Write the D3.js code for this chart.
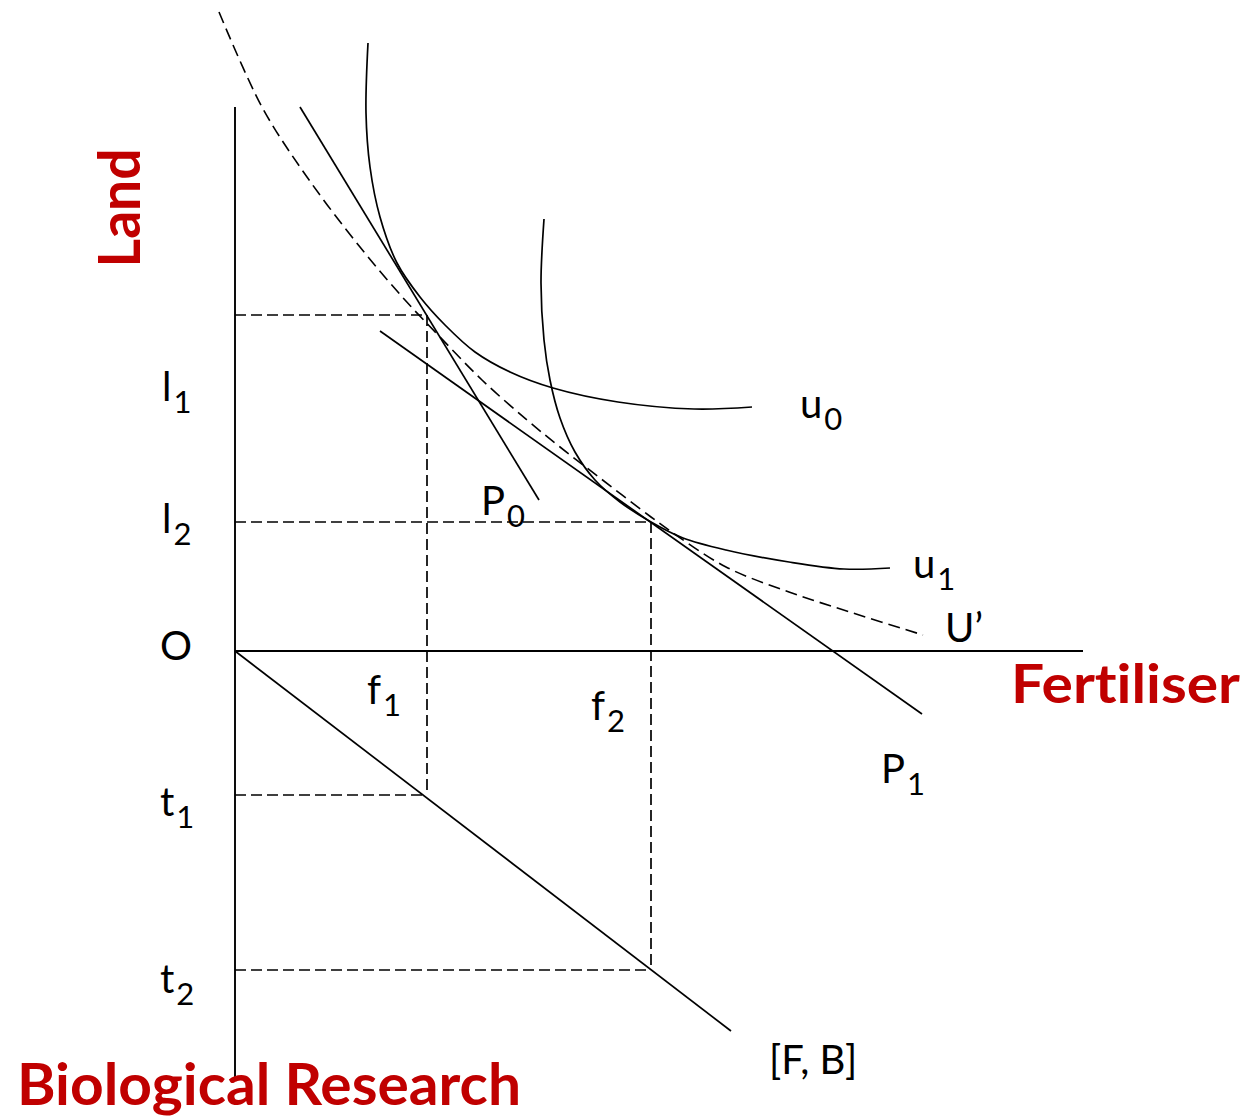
<!DOCTYPE html>
<html>
<head>
<meta charset="utf-8">
<script src="https://cdn.jsdelivr.net/npm/d3@7"></script>
<style>
  body { margin: 0; background: #fff; }
  svg { display: block; }
  text { font-variant-ligatures: none; font-feature-settings: "liga" 0, "dlig" 0; }
</style>
</head>
<body>
<div class="diagram"></div>
<script>
var width = 1250,
    height = 1119;

// diagram units: origin O, fertiliser to the right, land up, biological research down
var guideF = [192, 416];          // f1, f2
var guideL = [336, 129];          // l1, l2
var guideT = [-144, -319];        // t1, t2

var p0Line = [[65, 544], [304, 151]];
var p1Line = [[145, 320], [687, -63]];
var fbLine = [[0, 0], [496, -380]];

var u0Curve = [[133, 608], [131, 538], [135, 484], [145, 434], [162, 388], [185, 354],
  [210, 326], [240, 299], [275, 279], [318, 263], [383, 249], [459, 242], [517, 244]];
var u1Curve = [[309, 432], [306, 368], [309, 311], [315, 271], [325, 233], [340, 199],
  [360, 171], [385, 149], [416, 129], [448, 113], [491, 101], [554, 89], [609, 82], [655, 83]];
var envelope = [[-16, 639], [27, 544], [72, 474], [125, 404], [170, 351], [205, 314],
  [247, 271], [292, 231], [325, 204], [365, 173], [416, 134], [441, 116], [491, 84],
  [554, 59], [618, 38], [688, 16]];

var axisX = [0, 848];
var axisY = [-429, 544];

var labels = [
  {t: "l", s: "1", at: [-73, 250]},
  {t: "l", s: "2", at: [-73, 118]},
  {t: "O", s: "", at: [-75, -9]},
  {t: "t", s: "1", at: [-75, -165]},
  {t: "t", s: "2", at: [-75, -342]},
  {t: "f", s: "1", at: [132, -53]},
  {t: "f", s: "2", at: [356, -69]},
  {t: "P", s: "0", at: [246, 136]},
  {t: "u", s: "0", at: [565, 233]},
  {t: "u", s: "1", at: [678, 73]},
  {t: "U\u2019", s: "", at: [710, 9]},
  {t: "P", s: "1", at: [646, -132]},
  {t: "[F, B]", s: "", at: [534, -423]}
];

var red = "#c00000";

var x = d3.scaleLinear().domain([0, 848]).range([235, 1083]);
var y = d3.scaleLinear().domain([0, 544]).range([651, 107]);

var svg = d3.select(".diagram").append("svg")
    .attr("width", width)
    .attr("height", height);

var line = d3.line()
    .x(function(d) { return x(d[0]); })
    .y(function(d) { return y(d[1]); });
var curve = d3.line()
    .x(function(d) { return x(d[0]); })
    .y(function(d) { return y(d[1]); })
    .curve(d3.curveCatmullRom.alpha(0.5));

// dashed guides
var guides = [
  [[0, guideL[0]], [guideF[0], guideL[0]]],
  [[0, guideL[1]], [guideF[1], guideL[1]]],
  [[0, guideT[0]], [guideF[0], guideT[0]]],
  [[0, guideT[1]], [guideF[1], guideT[1]]],
  [[guideF[0], guideL[0]], [guideF[0], guideT[0]]],
  [[guideF[1], guideL[1]], [guideF[1], guideT[1]]]
];
svg.selectAll(".guide").data(guides).enter().append("path")
    .attr("class", "guide")
    .attr("d", line)
    .attr("fill", "none")
    .attr("stroke", "#000")
    .attr("stroke-width", 1.7)
    .attr("stroke-dasharray", "11,5");

// axes
svg.append("path")
    .attr("d", line([[0, axisY[1]], [0, axisY[0]]]))
    .attr("stroke", "#000").attr("stroke-width", 1.9);
svg.append("path")
    .attr("d", line([[axisX[0], 0], [axisX[1], 0]]))
    .attr("stroke", "#000").attr("stroke-width", 1.9);

// price lines and the [F, B] line
svg.selectAll(".pline").data([p0Line, p1Line, fbLine]).enter().append("path")
    .attr("class", "pline")
    .attr("d", line)
    .attr("fill", "none")
    .attr("stroke", "#000")
    .attr("stroke-width", 1.7);

// isoquants
svg.selectAll(".iso").data([u0Curve, u1Curve]).enter().append("path")
    .attr("class", "iso")
    .attr("d", curve)
    .attr("fill", "none")
    .attr("stroke", "#000")
    .attr("stroke-width", 1.7);

// envelope U'
svg.append("path")
    .attr("d", curve(envelope))
    .attr("fill", "none")
    .attr("stroke", "#000")
    .attr("stroke-width", 1.6)
    .attr("stroke-dasharray", "12,6");

// black labels
var lab = svg.selectAll(".lab").data(labels).enter().append("text")
    .attr("class", "lab")
    .attr("x", function(d) { return x(d.at[0]); })
    .attr("y", function(d) { return y(d.at[1]); })
    .style("font-family", "Lato, 'Open Sans', sans-serif")
    .style("font-size", "40px")
    .attr("fill", "#000");
lab.append("tspan").text(function(d) { return d.t; });
lab.filter(function(d) { return d.s; }).append("tspan")
    .attr("dx", 2)
    .attr("dy", 12)
    .style("font-size", "31px")
    .text(function(d) { return d.s; });

// red axis titles
svg.append("text")
    .attr("transform", "translate(140,208) rotate(-90)")
    .attr("text-anchor", "middle")
    .attr("textLength", 119)
    .attr("lengthAdjust", "spacingAndGlyphs")
    .style("font-family", "Lato, sans-serif")
    .style("font-weight", "bold")
    .style("font-size", "58px")
    .attr("fill", red)
    .text("Land");

svg.append("text")
    .attr("x", 1011)
    .attr("y", 703)
    .attr("textLength", 229)
    .attr("lengthAdjust", "spacingAndGlyphs")
    .style("font-family", "Lato, sans-serif")
    .style("font-weight", "bold")
    .style("font-size", "54px")
    .attr("fill", red)
    .text("Fertiliser");

svg.append("text")
    .attr("x", 17)
    .attr("y", 1105)
    .attr("textLength", 504)
    .attr("lengthAdjust", "spacingAndGlyphs")
    .style("font-family", "Lato, sans-serif")
    .style("font-weight", "bold")
    .style("font-size", "58px")
    .attr("fill", red)
    .text("Biological Research");
</script>
</body>
</html>
